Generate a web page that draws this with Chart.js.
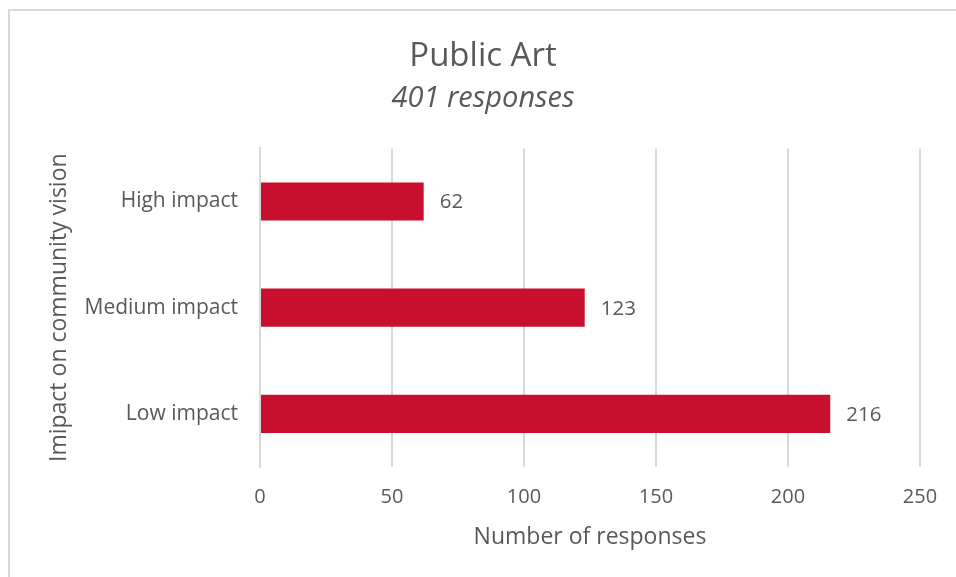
<!DOCTYPE html>
<html>
<head>
<meta charset="utf-8">
<script src="https://cdn.jsdelivr.net/npm/chart.js@4/dist/chart.umd.min.js"></script>
<style>
  html, body { margin: 0; padding: 0; background: #fff; overflow: hidden; }
  .frame {
    position: absolute; left: 8px; top: 9px; width: 1000px; height: 620px;
    border-left: 2px solid #d9d9d9; border-top: 2px solid #d9d9d9;
  }
  .box { position: absolute; left: 0; top: 0; width: 956px; height: 577px; }
</style>
</head>
<body>
<div class="frame"></div>
<div class="box"><canvas id="artChart"></canvas></div>
<script>
const categories = ["High impact", "Medium impact", "Low impact"];
const responses = [62, 123, 216];
const xTicks = [0, 50, 100, 150, 200, 250];

const textColor = "#595959";
const fontFamily = "'Open Sans', Lato, sans-serif";

// value printed just past the end of each bar
const barValues = {
    id: "barValues",
    afterDatasetsDraw(chart) {
        const ctx = chart.ctx;
        const meta = chart.getDatasetMeta(0);
        ctx.save();
        ctx.fillStyle = textColor;
        ctx.font = "20.5px " + fontFamily;
        ctx.textAlign = "left";
        ctx.textBaseline = "middle";
        meta.data.forEach((bar, i) => {
            ctx.fillText(String(responses[i]), bar.x + 16, bar.y + 1);
        });
        ctx.restore();
    },
};

new Chart(document.getElementById("artChart"), {
    type: "bar",
    data: {
        labels: categories,
        datasets: [
            {
                data: responses,
                backgroundColor: "#c8102e",
                borderWidth: 0,
                categoryPercentage: 1,
                barPercentage: 0.36,
            },
        ],
    },
    options: {
        indexAxis: "y",
        responsive: true,
        maintainAspectRatio: false,
        animation: false,
        layout: { padding: { left: 46, right: 36, top: 37, bottom: 26 } },
        plugins: {
            legend: { display: false },
            tooltip: { enabled: false },
            title: {
                display: true,
                text: "Public Art",
                color: textColor,
                font: { family: fontFamily, size: 33, weight: "normal" },
                padding: { top: 0, bottom: 5 },
            },
            subtitle: {
                display: true,
                text: "401 responses",
                color: textColor,
                font: { family: fontFamily, size: 29, style: "italic" },
                padding: { top: 0, bottom: 32 },
            },
        },
        scales: {
            x: {
                min: 0,
                max: 250,
                afterBuildTicks(axis) {
                    axis.ticks = xTicks.map((v) => ({ value: v }));
                },
                grid: { color: "#d9d9d9", lineWidth: 2, drawTicks: false },
                border: { display: false },
                ticks: {
                    color: textColor,
                    padding: 18,
                    font: { family: fontFamily, size: 20 },
                },
                title: {
                    display: true,
                    text: "Number of responses",
                    color: textColor,
                    font: { family: fontFamily, size: 23 },
                    padding: { top: 14, bottom: 0 },
                },
                afterFit(axis) {
                    axis.height = 84;
                },
            },
            y: {
                grid: { display: false, drawTicks: false },
                border: { display: true, color: "#d9d9d9", width: 2 },
                ticks: {
                    color: textColor,
                    padding: 22,
                    font: { family: fontFamily, size: 21 },
                },
                title: {
                    display: true,
                    text: "Imipact on community vision",
                    color: textColor,
                    font: { family: fontFamily, size: 23 },
                    padding: { top: 0, bottom: 8 },
                },
                afterFit(axis) {
                    axis.width = 214;
                },
            },
        },
    },
    plugins: [barValues],
});
</script>
</body>
</html>
